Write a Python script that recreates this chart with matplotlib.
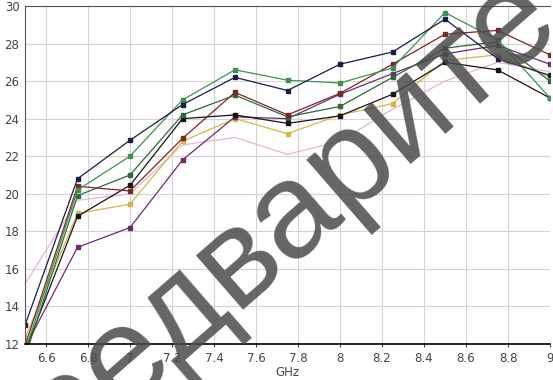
import matplotlib
matplotlib.use("Agg")
import matplotlib.pyplot as plt

# frequency points, GHz
freq = [6.5, 6.75, 7.0, 7.25, 7.5, 7.75, 8.0, 8.25, 8.5, 8.75, 9.0]

navy = [13.0, 20.8, 22.85, 24.75, 26.2, 25.5, 26.9, 27.55, 29.3, 27.2, 26.3]
green = [11.6, 20.2, 22.0, 25.0, 26.6, 26.05, 25.9, 26.7, 29.65, 28.2, 25.1]
dark_green = [11.3, 19.9, 21.0, 24.2, 25.25, 24.1, 24.65, 26.2, 27.75, 28.1, 26.0]
black = [11.6, 18.8, 20.45, 24.0, 24.2, 23.75, 24.15, 25.3, 27.0, 26.6, 25.1]
maroon = [11.9, 20.4, 20.15, 22.95, 25.4, 24.2, 25.35, 26.9, 28.5, 28.7, 27.4]
purple = [11.8, 17.15, 18.2, 21.8, 24.1, 24.0, 25.3, 26.4, 27.45, 27.9, 26.9]
yellow = [12.3, 18.95, 19.45, 22.8, 24.0, 23.2, 24.2, 24.8, 27.1, 27.4, 26.2]
pink = [15.2, 19.65, 20.0, 22.6, 23.0, 22.1, 22.8, 24.5, 26.0, 27.0, 26.5]

series = [
    (pink, "#e8b4d4", False),
    (yellow, "#d9b548", True),
    (purple, "#6b2d6e", True),
    (black, "#151515", True),
    (dark_green, "#2e6a3c", True),
    (maroon, "#7d2626", True),
    (green, "#3f9150", True),
    (navy, "#1c1c48", True),
]

fig = plt.figure(figsize=(5.53, 3.80), dpi=100)
ax = fig.add_axes([25 / 553, 1 - 344 / 380, 525 / 553, 338 / 380])

for vals, col, mark in series:
    ax.plot(freq, vals, color=col, lw=0.9,
            marker="s" if mark else None, ms=2.6, mec=col, mfc=col)

ax.set_xlim(6.5, 9.0)
ax.set_ylim(12, 30)
ax.set_xticks([6.6, 6.8, 7.0, 7.2, 7.4, 7.6, 7.8, 8.0, 8.2, 8.4, 8.6, 8.8, 9.0])
ax.set_xticklabels(["6.6", "6.8", "7", "7.2", "7.4", "7.6", "7.8", "8",
                    "8.2", "8.4", "8.6", "8.8", "9"])
ax.set_yticks(range(12, 31, 2))
ax.grid(True, color="#d4d4d4", lw=0.8)
ax.set_axisbelow(True)
ax.tick_params(labelsize=8.5, colors="#444444", length=2, width=0.8)
ax.tick_params(axis="y", length=0, pad=4)
ax.set_xlabel("GHz", fontsize=8.5, color="#444444", labelpad=1)

ax.spines["right"].set_visible(False)
ax.spines["top"].set_color("#555555")
ax.spines["left"].set_color("#555555")
ax.spines["bottom"].set_color("#000000")
ax.spines["bottom"].set_linewidth(1.2)

# preview watermark across the plot
fig.text(410 / 553, 1 - 108 / 380, "предварительный", fontsize=98,
         family="Liberation Sans", color="#4a4a4a", alpha=0.85,
         rotation=41, rotation_mode="anchor", ha="center", va="center")

fig.savefig("out.png", dpi=100)
